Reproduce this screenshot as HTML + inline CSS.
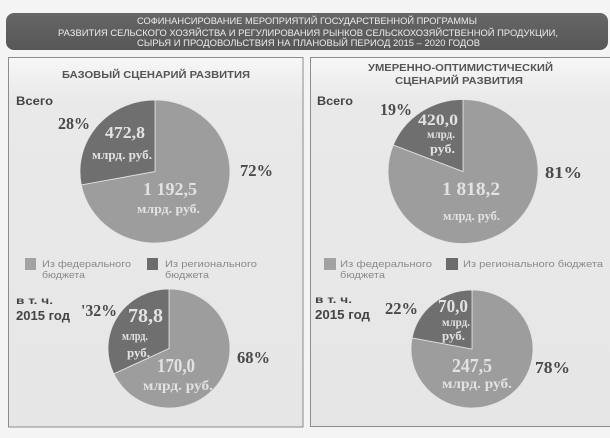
<!DOCTYPE html>
<html><head><meta charset="utf-8"><style>
html,body{margin:0;padding:0;background:#f4f4f4;}
svg{display:block;}
.t{font-family:"Liberation Sans","Noto Sans CJK SC",sans-serif;}
.s{font-family:"Liberation Serif","Noto Serif CJK SC",serif;font-weight:bold;}
</style></head><body>
<svg width="610" height="438" viewBox="0 0 610 438" xmlns="http://www.w3.org/2000/svg">
<defs>
<linearGradient id="pg" x1="0" y1="0" x2="0" y2="1">
<stop offset="0" stop-color="#f7f7f7"/><stop offset="0.12" stop-color="#e9e9e9"/><stop offset="1" stop-color="#e6e6e6"/>
</linearGradient>
<linearGradient id="tb" x1="0" y1="0" x2="0" y2="1">
<stop offset="0" stop-color="#666"/><stop offset="1" stop-color="#575757"/>
</linearGradient>
</defs>
<rect x="0" y="0" width="610" height="438" fill="#f4f4f4"/>
<!-- title bar -->
<rect x="6" y="13" width="602" height="37" rx="8" fill="url(#tb)"/>
<g class="t" fill="#ececec" font-size="9">
<text x="137" y="24" textLength="340" lengthAdjust="spacingAndGlyphs">СОФИНАНСИРОВАНИЕ МЕРОПРИЯТИЙ ГОСУДАРСТВЕННОЙ ПРОГРАММЫ</text>
<text x="58" y="36" textLength="500" lengthAdjust="spacingAndGlyphs">РАЗВИТИЯ СЕЛЬСКОГО ХОЗЯЙСТВА И РЕГУЛИРОВАНИЯ РЫНКОВ СЕЛЬСКОХОЗЯЙСТВЕННОЙ ПРОДУКЦИИ,</text>
<text x="137" y="46" textLength="343" lengthAdjust="spacingAndGlyphs">СЫРЬЯ И ПРОДОВОЛЬСТВИЯ НА ПЛАНОВЫЙ ПЕРИОД 2015 – 2020 ГОДОВ</text>
</g>
<!-- panels -->
<rect x="8.5" y="57.5" width="294.5" height="369.5" fill="url(#pg)" stroke="#8c8c8c" stroke-width="1"/>
<rect x="310.5" y="57.5" width="302" height="369" fill="url(#pg)" stroke="#8c8c8c" stroke-width="1"/>

<!-- panel titles -->
<g class="t" fill="#555" font-weight="bold" font-size="10">
<text x="62" y="78" textLength="188" lengthAdjust="spacingAndGlyphs">БАЗОВЫЙ СЦЕНАРИЙ РАЗВИТИЯ</text>
<text x="368" y="71" textLength="185" lengthAdjust="spacingAndGlyphs">УМЕРЕННО-ОПТИМИСТИЧЕСКИЙ</text>
<text x="395" y="84" textLength="128" lengthAdjust="spacingAndGlyphs">СЦЕНАРИЙ РАЗВИТИЯ</text>
</g>
<g class="t" fill="#444" font-weight="bold">
<text x="16" y="105" font-size="12" textLength="37" lengthAdjust="spacingAndGlyphs">Всего</text>
<text x="317" y="105" font-size="12" textLength="36" lengthAdjust="spacingAndGlyphs">Всего</text>
<text x="16" y="304" font-size="10" textLength="37" lengthAdjust="spacingAndGlyphs">в т. ч.</text>
<text x="16" y="320" font-size="12.5" textLength="54" lengthAdjust="spacingAndGlyphs">2015 год</text>
<text x="315" y="303" font-size="10" textLength="37" lengthAdjust="spacingAndGlyphs">в т. ч.</text>
<text x="315" y="319" font-size="12.5" textLength="55" lengthAdjust="spacingAndGlyphs">2015 год</text>
</g>

<!-- pies -->
<g stroke="#e4e4e4" stroke-width="0.8">
<path d="M155,171.5 L155,100 A75,71.5 0 1,1 81.3,184.9 Z" fill="#9d9d9d"/>
<path d="M155,171.5 L155,100 A75,71.5 0 0,0 81.3,184.9 Z" fill="#6f6f6f"/>
<path d="M463,171.5 L463,99.5 A75,72 0 1,1 393.3,145 Z" fill="#9d9d9d"/>
<path d="M463,171.5 L463,99.5 A75,72 0 0,0 393.3,145 Z" fill="#6f6f6f"/>
<path d="M169,348.5 L169,289 A61,59.5 0 1,1 113.8,373.8 Z" fill="#9d9d9d"/>
<path d="M169,348.5 L169,289 A61,59.5 0 0,0 113.8,373.8 Z" fill="#6f6f6f"/>
<path d="M472,349 L472,290 A61,59 0 1,1 412.1,337.9 Z" fill="#9d9d9d"/>
<path d="M472,349 L472,290 A61,59 0 0,0 412.1,337.9 Z" fill="#6f6f6f"/>
</g>

<!-- pie value labels -->
<g class="s" fill="#e2e2e2">
<text x="105" y="138" font-size="17" textLength="40" lengthAdjust="spacingAndGlyphs">472,8</text>
<text x="92" y="159" font-size="13" textLength="60" lengthAdjust="spacingAndGlyphs">млрд. руб.</text>
<text x="143" y="195" font-size="18" textLength="54" lengthAdjust="spacingAndGlyphs">1 192,5</text>
<text x="137" y="213" font-size="13" textLength="63" lengthAdjust="spacingAndGlyphs">млрд. руб.</text>

<text x="418" y="125" font-size="16" textLength="40" lengthAdjust="spacingAndGlyphs">420,0</text>
<text x="427" y="138" font-size="12" textLength="28" lengthAdjust="spacingAndGlyphs">млрд.</text>
<text x="430" y="153" font-size="13" textLength="25" lengthAdjust="spacingAndGlyphs">руб.</text>
<text x="442" y="195" font-size="19" textLength="58" lengthAdjust="spacingAndGlyphs">1 818,2</text>
<text x="443" y="220" font-size="13" textLength="57" lengthAdjust="spacingAndGlyphs">млрд. руб.</text>

<text x="128" y="322" font-size="20" textLength="35" lengthAdjust="spacingAndGlyphs">78,8</text>
<text x="122" y="340" font-size="13" textLength="26" lengthAdjust="spacingAndGlyphs">млрд.</text>
<text x="127" y="357" font-size="13" textLength="23" lengthAdjust="spacingAndGlyphs">руб.</text>
<text x="157" y="372" font-size="20" textLength="38" lengthAdjust="spacingAndGlyphs">170,0</text>
<text x="143" y="390" font-size="14" textLength="70" lengthAdjust="spacingAndGlyphs">млрд. руб.</text>

<text x="438" y="312" font-size="18" textLength="30" lengthAdjust="spacingAndGlyphs">70,0</text>
<text x="442" y="326" font-size="12" textLength="28" lengthAdjust="spacingAndGlyphs">млрд.</text>
<text x="442" y="340" font-size="13" textLength="23" lengthAdjust="spacingAndGlyphs">руб.</text>
<text x="452" y="372" font-size="20" textLength="40" lengthAdjust="spacingAndGlyphs">247,5</text>
<text x="442" y="388" font-size="14" textLength="70" lengthAdjust="spacingAndGlyphs">млрд. руб.</text>
</g>

<!-- percentages -->
<g class="s" fill="#4a4a4a" font-size="17">
<text x="58" y="129" textLength="32" lengthAdjust="spacingAndGlyphs">28%</text>
<text x="240" y="176" textLength="33" lengthAdjust="spacingAndGlyphs">72%</text>
<text x="380" y="115" textLength="32" lengthAdjust="spacingAndGlyphs">19%</text>
<text x="545" y="178" textLength="37" lengthAdjust="spacingAndGlyphs">81%</text>
<text x="81" y="316" textLength="36" lengthAdjust="spacingAndGlyphs">'32%</text>
<text x="237" y="363" textLength="33" lengthAdjust="spacingAndGlyphs">68%</text>
<text x="385" y="314" textLength="33" lengthAdjust="spacingAndGlyphs">22%</text>
<text x="535" y="373" textLength="35" lengthAdjust="spacingAndGlyphs">78%</text>
</g>

<!-- legends -->
<rect x="25" y="258" width="11" height="12" fill="#a2a2a2"/>
<rect x="147" y="258" width="11" height="12" fill="#6c6c6c"/>
<rect x="324" y="258" width="12" height="12" fill="#a2a2a2"/>
<rect x="446" y="258" width="12" height="12" fill="#6c6c6c"/>
<g class="t" fill="#8a8a8a" font-size="9.5">
<text x="42" y="267" textLength="89" lengthAdjust="spacingAndGlyphs">Из федерального</text>
<text x="42" y="278" textLength="43" lengthAdjust="spacingAndGlyphs">бюджета</text>
<text x="165" y="267" textLength="92" lengthAdjust="spacingAndGlyphs">Из регионального</text>
<text x="165" y="278" textLength="44" lengthAdjust="spacingAndGlyphs">бюджета</text>
<text x="340" y="267" textLength="92" lengthAdjust="spacingAndGlyphs">Из федерального</text>
<text x="340" y="278" textLength="45" lengthAdjust="spacingAndGlyphs">бюджета</text>
<text x="463" y="267" textLength="140" lengthAdjust="spacingAndGlyphs">Из регионального бюджета</text>
</g>
</svg>
</body></html>
